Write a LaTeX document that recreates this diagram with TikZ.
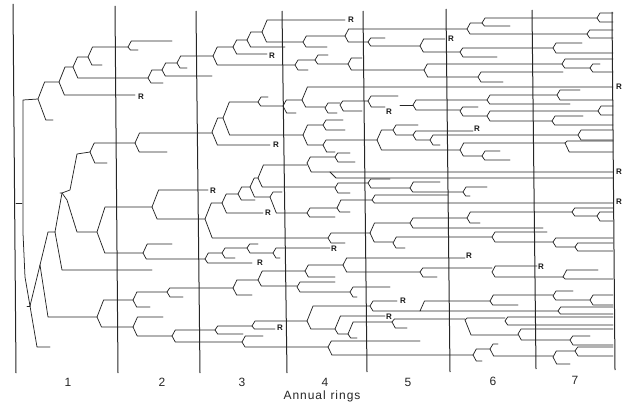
\documentclass[tikz,border=0pt]{standalone}
\usepackage{fontspec}
\setmainfont{Liberation Sans}
\tikzset{
 br/.style={line width=0.75pt, draw=black!85, line join=round, line cap=round},
 grid/.style={line width=1pt, draw=black!85},
 rl/.style={font=\fontsize{8}{8}\selectfont\bfseries, inner sep=0pt, text=black!90},
 lab/.style={font=\fontsize{12}{12}\selectfont, inner sep=0pt, text=black!85},
}
\newcommand\fk[6]{%
 \pgfmathsetmacro\fda{min(8,1.5+0.3*abs(#3-(#2)))}%
 \pgfmathsetmacro\fdb{min(8,1.5+0.3*abs(#5-(#2)))}%
 \draw[br] (#4,#3) -- (#1+\fda,#3) -- (#1,#2) -- (#1+\fdb,#5) -- (#6,#5);}
\begin{document}
\begin{tikzpicture}[x=1pt,y=-1pt]
\useasboundingbox (0,0) rectangle (628,406);
% ring boundaries
\draw[grid] (13,4) -- (16,373);
\draw[grid] (115,6) -- (118,373);
\draw[grid] (196,11) -- (200,373);
\draw[grid] (282,11) -- (287,373);
\draw[grid] (363,11) -- (367,372);
\draw[grid] (446,9) -- (450,372);
\draw[grid] (532,10) -- (536,369);
\draw[grid] (612,12) -- (615,370);
% trunk
\draw[br] (27,306) -- (30,306);
\draw[br] (30,306) -- (25,277) -- (23,233) -- (23,100) -- (38,99);
\draw[br] (16,203) -- (22,203);
\draw[br] (30,306) -- (40,265);
\draw[br] (30,306) -- (37,347) -- (50,347);
\fk{40}{265}{232}{55}{317}{97}
\draw[br] (55,232) -- (62,193);
\draw[br] (55,232) -- (62,270) -- (152,270);
\draw[br] (60,193) -- (62,193) -- (70,190) -- (77,154) -- (90,152);
\draw[br] (62,193) -- (67,200) -- (77,232) -- (97,232);
% upper group
\fk{38}{99}{82}{59}{120}{53}
\fk{59}{82}{67}{73}{95}{135}
\fk{73}{67}{57}{88}{78}{148}
\fk{88}{57}{47}{128}{65}{102}
\fk{128}{47}{41}{172}{50}{138}
\fk{148}{78}{70}{162}{83}{163}
\fk{162}{70}{63}{177}{76}{212}
\fk{177}{63}{56}{213}{68}{187}
\fk{213}{56}{47}{233}{65}{295}
\fk{233}{47}{40}{247}{54}{267}
\fk{247}{40}{32}{262}{47}{285}
\fk{262}{32}{20}{345}{42}{303}
\fk{303}{42}{36}{345}{47}{327}
\fk{345}{36}{29}{467}{42}{368}
\fk{368}{42}{38}{385}{46}{420}
\fk{420}{46}{39}{445}{52}{460}
\fk{460}{52}{48}{553}{57}{497}
\fk{553}{48}{43}{582}{53}{613}
\fk{467}{29}{23}{482}{34}{587}
\fk{482}{23}{18}{597}{26}{510}
\fk{597}{18}{13}{613}{22}{613}
\fk{587}{34}{30}{613}{38}{613}
\fk{295}{65}{60}{315}{70}{308}
\fk{315}{60}{55}{328}{64}{348}
\fk{348}{64}{58}{362}{70}{424}
\fk{424}{70}{64}{562}{77}{478}
\fk{478}{77}{72}{563}{82}{503}
\fk{562}{64}{59}{613}{68}{590}
\fk{590}{68}{64}{600}{72}{613}
% second group
\fk{90}{152}{143}{135}{163}{107}
\fk{135}{143}{133}{212}{152}{167}
\fk{212}{132}{118}{223}{145}{270}
\fk{223}{118}{102}{258}{135}{303}
\fk{258}{102}{97}{268}{106}{283}
\fk{283}{106}{100}{302}{113}{296}
\fk{302}{100}{87}{613}{107}{325}
\fk{325}{108}{103}{340}{113}{337}
\fk{340}{105}{101}{368}{111}{362}
\fk{368}{101}{96}{398}{107}{385}
\draw[br] (400,105) -- (413,105);
\fk{413}{105}{100}{487}{110}{460}
\fk{460}{111}{107}{478}{116}{487}
\fk{487}{100}{95}{557}{104}{570}
\fk{557}{95}{90}{580}{100}{613}
\fk{487}{116}{111}{598}{121}{552}
\fk{598}{111}{106}{613}{115}{613}
\fk{552}{121}{116}{583}{125}{613}
\fk{303}{135}{125}{323}{145}{323}
\fk{323}{125}{120}{343}{130}{345}
\fk{323}{145}{140}{377}{152}{335}
\fk{377}{140}{130}{393}{150}{460}
\fk{393}{130}{125}{418}{135}{413}
\fk{413}{135}{131}{473}{140}{430}
\fk{430}{140}{135}{578}{145}{440}
\fk{578}{135}{130}{613}{140}{613}
\fk{460}{150}{143}{565}{156}{482}
\fk{565}{143}{141}{613}{152}{613}
\fk{482}{156}{151}{500}{160}{510}
% middle band
\fk{258}{178}{165}{307}{187}{335}
\fk{250}{187}{178}{258}{197}{270}
\fk{238}{194}{187}{250}{200}{255}
\fk{222}{203}{194}{238}{213}{263}
\fk{205}{219}{203}{222}{238}{328}
\fk{270}{197}{192}{282}{213}{307}
\fk{307}{213}{208}{337}{217}{335}
\fk{307}{163}{157}{335}{172}{613}
\draw[br] (330,172) -- (336,178) -- (613,178);
\fk{335}{157}{153}{350}{162}{355}
\fk{335}{188}{183}{368}{193}{350}
\fk{368}{183}{179}{390}{188}{410}
\fk{410}{188}{182}{440}{192}{463}
\fk{463}{192}{187}{487}{196}{470}
\fk{337}{208}{200}{372}{212}{350}
\fk{372}{200}{195}{448}{203}{613}
\fk{328}{238}{233}{370}{243}{345}
\fk{370}{233}{223}{410}{242}{393}
\fk{410}{223}{218}{467}{228}{543}
\fk{467}{218}{212}{572}{223}{480}
\fk{572}{212}{208}{613}{216}{597}
\fk{597}{216}{212}{613}{221}{613}
\fk{393}{243}{237}{492}{248}{405}
\fk{492}{237}{232}{547}{242}{553}
\fk{553}{242}{238}{613}{247}{575}
\fk{575}{247}{243}{613}{251}{613}
% left middle
\fk{97}{232}{207}{152}{253}{143}
\fk{152}{207}{190}{208}{219}{205}
\fk{143}{253}{244}{172}{259}{205}
\fk{205}{259}{253}{222}{263}{252}
\fk{222}{253}{248}{247}{258}{235}
\fk{247}{248}{244}{258}{253}{273}
\fk{273}{253}{248}{330}{258}{280}
% lower
\fk{97}{317}{300}{133}{327}{133}
\fk{133}{300}{292}{167}{307}{150}
\fk{167}{292}{288}{233}{297}{183}
\fk{233}{288}{280}{258}{295}{252}
\fk{258}{280}{271}{305}{286}{297}
\fk{305}{271}{265}{343}{277}{335}
\fk{297}{287}{282}{335}{292}{350}
\fk{350}{292}{287}{390}{297}{357}
\fk{343}{265}{258}{465}{272}{420}
\fk{420}{272}{268}{492}{277}{437}
\fk{492}{272}{266}{537}{277}{563}
\fk{563}{277}{270}{598}{279}{613}
\fk{133}{327}{317}{163}{336}{172}
\fk{172}{336}{330}{215}{342}{242}
\fk{215}{330}{326}{252}{334}{243}
\fk{252}{326}{321}{307}{329}{275}
\fk{307}{321}{306}{370}{329}{335}
\fk{370}{306}{301}{397}{311}{420}
\fk{420}{311}{301}{490}{311}{558}
\fk{490}{301}{295}{553}{305}{518}
\fk{553}{296}{291}{573}{300}{590}
\fk{590}{300}{295}{613}{305}{613}
\fk{558}{311}{307}{613}{314}{613}
\fk{335}{329}{316}{385}{334}{348}
\fk{348}{334}{322}{392}{338}{357}
\fk{392}{322}{319}{465}{328}{407}
\fk{465}{320}{318}{505}{335}{518}
\fk{505}{321}{317}{613}{325}{613}
\fk{518}{334}{329}{613}{340}{570}
\fk{570}{340}{336}{590}{345}{613}
\fk{242}{342}{336}{263}{347}{328}
\fk{328}{347}{341}{420}{355}{473}
\fk{473}{355}{349}{490}{361}{482}
\fk{490}{349}{344}{498}{356}{553}
\fk{553}{357}{351}{575}{364}{570}
\fk{575}{351}{347}{613}{356}{613}
% R marks
\node[rl] (r1) at (141,97) {R};
\node[rl] (r2) at (272,56) {R};
\node[rl] (r3) at (351,20) {R};
\node[rl] (r4) at (451,39) {R};
\node[rl] (r5) at (619,87) {R};
\node[rl] (r6) at (389,112) {R};
\node[rl] (r7) at (477,129) {R};
\node[rl] (r8) at (276,145) {R};
\node[rl] (r9) at (213,191) {R};
\node[rl] (r10) at (268,213) {R};
\node[rl] (r11) at (619,172) {R};
\node[rl] (r12) at (619,202) {R};
\node[rl] (r13) at (334,249) {R};
\node[rl] (r14) at (260,263) {R};
\node[rl] (r15) at (469,256) {R};
\node[rl] (r16) at (541,267) {R};
\node[rl] (r17) at (403,301) {R};
\node[rl] (r18) at (389,317) {R};
\node[rl] (r19) at (280,328) {R};
% ring labels
\node[lab] (n1) at (68,382) {1};
\node[lab] (n2) at (162,382) {2};
\node[lab] (n3) at (242,382) {3};
\node[lab] (n4) at (325,382) {4};
\node[lab] (n5) at (408,382) {5};
\node[lab] (n6) at (493,381) {6};
\node[lab] (n7) at (575,380) {7};
\node[lab, font=\fontsize{12}{12}\selectfont\addfontfeature{LetterSpace=8}] (ar) at (322,396) {Annual\hspace{0.4em}rings};
\end{tikzpicture}
\end{document}
